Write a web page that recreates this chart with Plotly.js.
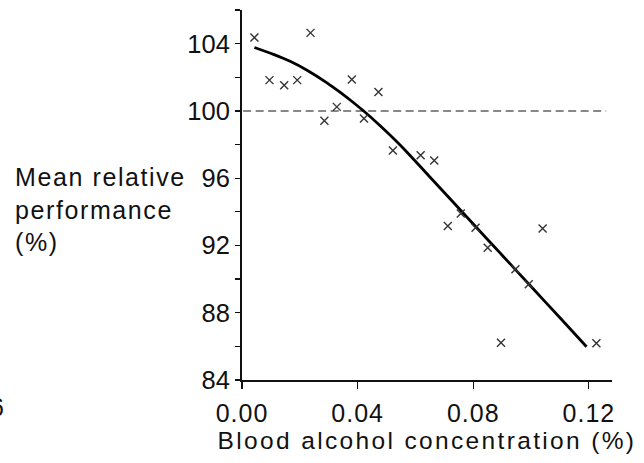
<!DOCTYPE html>
<html>
<head>
<meta charset="utf-8">
<script src="https://cdn.plot.ly/plotly-3.0.1.min.js"></script>
<style>
html,body{margin:0;padding:0;background:#fff}
#chart{width:644px;height:463px}
#chart .xtitle{letter-spacing:2.35px}
#chart .annotation-text.ytitle-ann{letter-spacing:1.6px}
#chart .xtick text{letter-spacing:1px}
</style>
</head>
<body>
<div id="chart"></div>
<script>
// Observed data points (blood alcohol %, mean relative performance %)
var pointX = [0.0043, 0.0095, 0.0146, 0.0191, 0.0237, 0.0285, 0.0328, 0.0380, 0.0422, 0.0472, 0.0522,
              0.0618, 0.0665, 0.0712, 0.0757, 0.0808, 0.0850, 0.0896, 0.0946, 0.0992, 0.1040, 0.1226];
var pointY = [104.36, 101.83, 101.53, 101.83, 104.64, 99.41, 100.24, 101.87, 99.55, 101.13, 97.65,
              97.37, 97.05, 93.15, 93.90, 93.05, 91.86, 86.22, 90.58, 89.69, 93.01, 86.18];
// Fitted curve
var curveX = [0.0043, 0.0109, 0.0170, 0.0225, 0.0294, 0.0340, 0.0385, 0.0422, 0.0478, 0.0535, 0.0575,
              0.0650, 0.0800, 0.0900, 0.1000, 0.1100, 0.1192];
var curveY = [103.77, 103.36, 102.92, 102.42, 101.67, 101.10, 100.50, 99.98, 99.12, 98.18, 97.47,
              96.07, 93.28, 91.42, 89.56, 87.70, 85.98];
// Reference line at 100 %
var refX = [0.0004, 0.126];
var refY = [100, 100];
var xTickVals = [0, 0.04, 0.08, 0.12];
var xTickText = ['0.00', '0.04', '0.08', '0.12'];
var yTickVals = [84, 88, 92, 96, 100, 104];

var font = 'Liberation Sans, Arial, sans-serif';
var data = [
  {x: refX, y: refY, mode: 'lines', line: {color: '#888', width: 2, dash: '8px,4.5px'}},
  {x: curveX, y: curveY, mode: 'lines', line: {color: '#000', width: 2.8, shape: 'spline', smoothing: 0.5}},
  {x: pointX, y: pointY, mode: 'markers', marker: {symbol: 'x-thin', size: 8, line: {color: '#333', width: 1.4}}}
];
var layout = {
  width: 644, height: 463,
  margin: {l: 242, r: 32, t: 10, b: 83},
  showlegend: false,
  paper_bgcolor: '#fff', plot_bgcolor: '#fff',
  font: {family: font, color: '#111'},
  xaxis: {
    range: [0, 0.128], tickvals: xTickVals, ticktext: xTickText,
    showgrid: false, zeroline: false, showline: true, linecolor: '#111', linewidth: 2,
    ticks: 'outside', ticklen: 7, tickwidth: 1.2, tickcolor: '#111', ticklabelstandoff: 3,
    tickfont: {size: 25, family: font, color: '#111'},
    title: {text: 'Blood alcohol concentration (%)', font: {size: 24.5, family: font, color: '#111'}, standoff: 6}
  },
  yaxis: {
    range: [84, 106], tickvals: yTickVals,
    showgrid: false, zeroline: false, showline: true, linecolor: '#111', linewidth: 2,
    ticks: 'outside', ticklen: 5, tickwidth: 1.2, tickcolor: '#111',
    minor: {dtick: 2, tick0: 84, ticks: 'outside', ticklen: 5, tickwidth: 1.2, tickcolor: '#111', showgrid: false},
    tickfont: {size: 25.5, family: font, color: '#111'}
  },
  annotations: [
    {text: 'Mean relative<br>performance<br>(%)', xref: 'paper', yref: 'paper', x: -0.62, y: 0.592,
     xanchor: 'left', yanchor: 'top', align: 'left', showarrow: false,
     font: {size: 25, family: font, color: '#111'}},
    {text: '6', xref: 'paper', yref: 'paper', x: -0.638, y: -0.073,
     xanchor: 'right', yanchor: 'middle', showarrow: false,
     font: {size: 25, family: font, color: '#111'}}
  ]
};
Plotly.newPlot('chart', data, layout, {displayModeBar: false, staticPlot: true}).then(function () {
  var t = document.querySelectorAll('#chart .annotation-text');
  if (t.length) t[0].classList.add('ytitle-ann');
});
</script>
</body>
</html>
